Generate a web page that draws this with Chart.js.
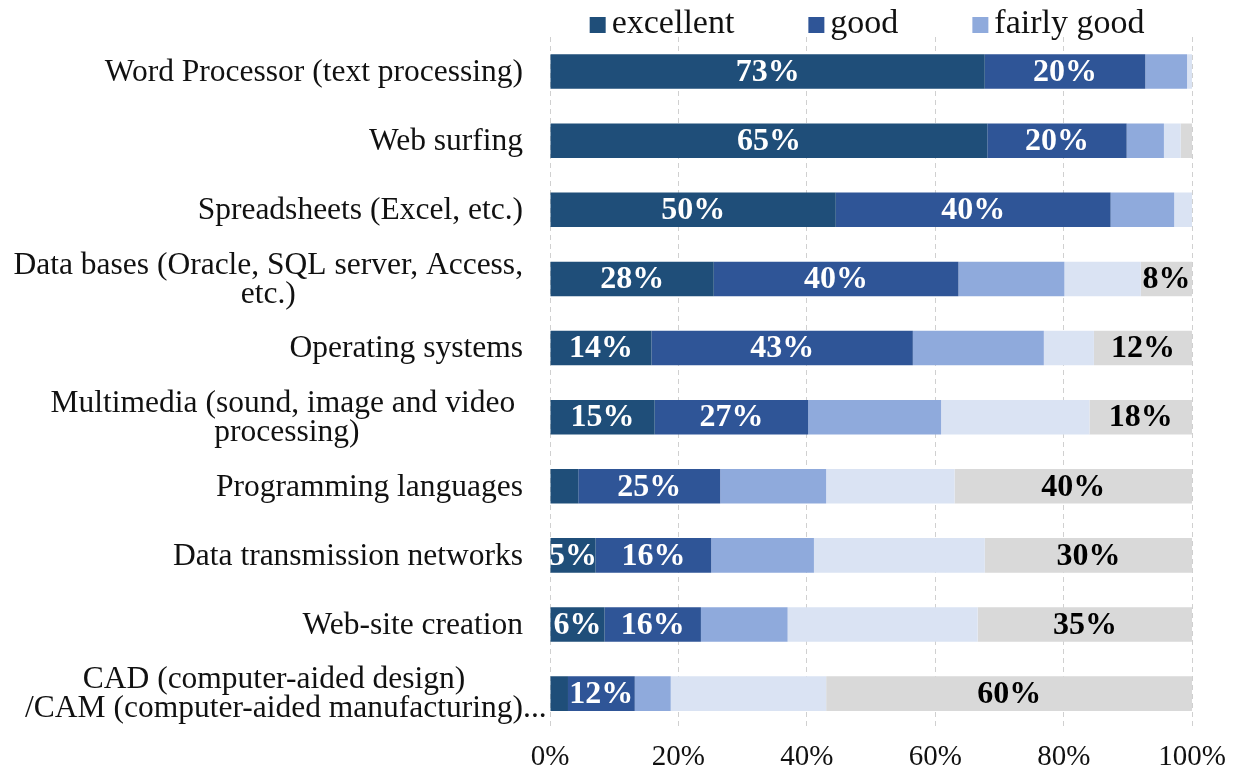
<!DOCTYPE html>
<html><head><meta charset="utf-8">
<script src="https://cdn.jsdelivr.net/npm/chart.js@4.4.1/dist/chart.umd.min.js"></script>
<style>html,body{margin:0;padding:0;background:#fff}#wrap{width:1238px;height:776px;position:relative}</style>
</head><body><div id="wrap"><canvas id="c"></canvas></div>
<script>
const categories = [
  ['Word Processor (text processing)'],
  ['Web surfing'],
  ['Spreadsheets (Excel, etc.)'],
  ['Data bases (Oracle, SQL server, Access,', 'etc.)'],
  ['Operating systems'],
  ['Multimedia (sound, image and video ', 'processing)'],
  ['Programming languages'],
  ['Data transmission networks'],
  ['Web-site creation'],
  ['CAD (computer-aided design)', '/CAM (computer-aided manufacturing)...']
];
const seriesNames = ['excellent', 'good', 'fairly good', 'fair', 'poor'];
const seriesColors = ['#1F4E79', '#2F5597', '#8FAADC', '#DAE3F3', '#D9D9D9'];
const excellent  = [67.7, 68.1, 44.5, 25.5, 15.8, 16.3, 4.4, 7.1, 8.5, 2.8];
const good       = [25.0, 21.7, 42.8, 38.1, 40.7, 23.9, 22.1, 18.0, 15.0, 10.4];
const fairlyGood = [6.5, 5.8, 9.9, 16.5, 20.4, 20.7, 16.5, 16.0, 13.5, 5.6];
const fair       = [0.8, 2.6, 2.8, 11.9, 7.8, 23.1, 20.0, 26.6, 29.6, 24.2];
const poor       = [0.0, 1.8, 0.0, 8.0, 15.3, 16.0, 37.0, 32.3, 33.4, 57.0];
const excellentLabels = ['73%', '65%', '50%', '28%', '14%', '15%', '', '5%', '6%', ''];
const goodLabels      = ['20%', '20%', '40%', '40%', '43%', '27%', '25%', '16%', '16%', '12%'];
const fairlyGoodLabels= ['', '', '', '', '', '', '', '', '', ''];
const fairLabels      = ['', '', '', '', '', '', '', '', '', ''];
const poorLabels      = ['', '', '', '8%', '12%', '18%', '40%', '30%', '35%', '60%'];
const xTickLabels = ['0%', '20%', '40%', '60%', '80%', '100%'];
const legendCount = 3;

const seriesValues = [excellent, good, fairlyGood, fair, poor];
const seriesLabels = [excellentLabels, goodLabels, fairlyGoodLabels, fairLabels, poorLabels];
const labelColors = ['#ffffff', '#ffffff', '#000000', '#000000', '#000000'];
const SERIF = '"Liberation Serif", "Times New Roman", serif';

const yLabelPlugin = {
  id: 'yLabels',
  afterDraw(chart) {
    const ctx = chart.ctx, ys = chart.scales.y, area = chart.chartArea;
    ctx.save();
    ctx.font = '31.5px ' + SERIF;
    ctx.fillStyle = '#111111';
    ctx.textBaseline = 'middle';
    ctx.textAlign = 'left';
    const right = area.left - 27, lh = 29;
    categories.forEach((lines, i) => {
      const cy = ys.getPixelForValue(i) + 1;
      // width used for alignment ignores a trailing truncation ellipsis (it hangs past the edge)
      const core = lines.map(l => l.replace(/\.\.\.$/, ''));
      const w = Math.max(...core.map(l => ctx.measureText(l).width));
      const cx = right - w / 2;
      lines.forEach((l, j) => {
        const lw = ctx.measureText(core[j]).width;
        ctx.fillText(l, cx - lw / 2, cy + (j - (lines.length - 1) / 2) * lh);
      });
    });
    ctx.restore();
  }
};

const dataLabelPlugin = {
  id: 'segLabels',
  afterDatasetsDraw(chart) {
    const ctx = chart.ctx, area = chart.chartArea;
    ctx.save();
    ctx.beginPath();
    ctx.rect(area.left, area.top, area.right - area.left, area.bottom - area.top);
    ctx.clip();
    ctx.font = 'bold 32px ' + SERIF;
    ctx.textAlign = 'center';
    ctx.textBaseline = 'middle';
    chart.data.datasets.forEach((ds, di) => {
      const meta = chart.getDatasetMeta(di);
      meta.data.forEach((bar, i) => {
        const txt = seriesLabels[di][i];
        if (!txt) return;
        const p = bar.getProps(['x', 'y', 'base'], true);
        ctx.fillStyle = labelColors[di];
        ctx.fillText(txt, (p.x + p.base) / 2, p.y + 1);
      });
    });
    ctx.restore();
  }
};

const legendPlugin = {
  id: 'topLegend',
  afterDraw(chart) {
    const ctx = chart.ctx, area = chart.chartArea;
    ctx.save();
    ctx.font = '34px ' + SERIF;
    ctx.textBaseline = 'alphabetic';
    ctx.textAlign = 'left';
    const box = 16, gapText = 6, gapItem = 74, baseline = 33;
    const items = chart.data.datasets.slice(0, legendCount);
    const widths = items.map(d => box + gapText + ctx.measureText(d.label).width);
    const total = widths.reduce((a, b) => a + b, 0) + gapItem * (items.length - 1);
    let x = (area.left + area.right) / 2 - total / 2 - 4;
    items.forEach((d, i) => {
      ctx.fillStyle = d.backgroundColor;
      ctx.fillRect(x, baseline - box, box, box);
      ctx.fillStyle = '#111111';
      ctx.fillText(d.label, x + box + gapText, baseline);
      x += widths[i] + gapItem;
    });
    ctx.restore();
  }
};

new Chart(document.getElementById('c'), {
  type: 'bar',
  data: {
    labels: categories.map(c => c.join(' ')),
    datasets: seriesNames.map((name, k) => ({
      label: name,
      data: seriesValues[k],
      backgroundColor: seriesColors[k],
      borderWidth: 0,
      categoryPercentage: 1.0,
      barPercentage: 0.5
    }))
  },
  options: {
    indexAxis: 'y',
    responsive: true,
    maintainAspectRatio: false,
    animation: false,
    layout: { padding: { top: 37, right: 14, bottom: 1, left: 0 } },
    plugins: { legend: { display: false }, tooltip: { enabled: false } },
    scales: {
      x: {
        stacked: true,
        min: 0, max: 100,
        ticks: {
          stepSize: 20,
          padding: 12,
          color: '#111111',
          font: { family: SERIF, size: 29 },
          callback: (v) => xTickLabels[Math.round(v / 20)]
        },
        grid: { color: '#d0d0d0', lineWidth: 1, drawTicks: false },
        border: { display: false, dash: [5, 4] },
        afterFit: (s) => { s.height = s.height - 12; }
      },
      y: {
        stacked: true,
        ticks: { display: false },
        grid: { display: false, drawTicks: false },
        border: { display: false },
        afterFit: (s) => { s.width = 550; }
      }
    }
  },
  plugins: [yLabelPlugin, dataLabelPlugin, legendPlugin]
});
</script>
</body></html>
